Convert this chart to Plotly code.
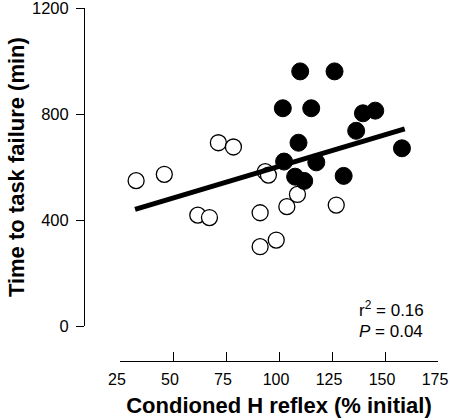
import plotly.graph_objects as go

# Open circles (condition 1)
open_x = [32.6, 45.9, 61.7, 67.2, 71.4, 78.5, 91.1, 91.1, 93.5, 95.0, 98.7, 103.7, 108.7, 127.0]
open_y = [549, 573, 419, 410, 692, 676, 428, 300, 583, 570, 325, 451, 497, 457]

# Filled circles (condition 2)
filled_x = [110.0, 126.2, 101.8, 115.2, 139.6, 145.4, 136.4, 109.2, 158.0, 102.4, 117.6, 107.6, 111.9, 130.5]
filled_y = [961, 961, 822, 822, 803, 813, 737, 692, 671, 621, 618, 564, 548, 567]

# Regression line end points
fit_x = [32.1, 159.3]
fit_y = [441, 744]

x_ticks = [25, 50, 75, 100, 125, 150, 175]
y_ticks = [0, 400, 800, 1200]

FONT = "Liberation Sans, Arial, sans-serif"

fig = go.Figure()
fig.add_trace(go.Scatter(x=open_x, y=open_y, mode="markers",
                         marker=dict(size=16, color="white", line=dict(color="black", width=1.3)),
                         showlegend=False, hoverinfo="skip"))
fig.add_trace(go.Scatter(x=fit_x, y=fit_y, mode="lines",
                         line=dict(color="black", width=5), showlegend=False, hoverinfo="skip"))
fig.add_trace(go.Scatter(x=filled_x, y=filled_y, mode="markers",
                         marker=dict(size=17, color="black", line=dict(color="black", width=1)),
                         showlegend=False, hoverinfo="skip"))

L, R, T, B = 84, 12, 8, 59.3
W, H = 450, 420
pw = W - L - R
ph = H - T - B

fig.update_layout(
    width=W, height=H,
    margin=dict(l=L, r=R, t=T, b=B, autoexpand=False),
    paper_bgcolor="white", plot_bgcolor="white",
    font=dict(family=FONT, color="black"),
    xaxis=dict(
        domain=[(120 - L) / pw, 1], range=[25, 175], anchor="free", position=0,
        tickvals=x_ticks, ticktext=[str(v) for v in x_ticks],
        ticks="inside", ticklen=9, tickwidth=1, tickcolor="black",
        showline=True, linecolor="black", linewidth=1,
        showgrid=False, zeroline=False,
        tickfont=dict(size=16, family=FONT),
        ticklabelstandoff=4, ticklabeloverflow="allow", ticklabelshift=-3,
        title=dict(text="<b>Condioned H reflex (% initial)</b>", font=dict(size=22, family=FONT), standoff=10),
        automargin=False,
    ),
    yaxis=dict(
        domain=[(H - B - 326) / ph, 1], range=[0, 1200], anchor="free", position=0,
        tickvals=y_ticks, ticktext=[str(v) for v in y_ticks],
        ticks="outside", ticklen=8, tickwidth=1, tickcolor="black",
        showline=True, linecolor="black", linewidth=1,
        showgrid=False, zeroline=False,
        tickfont=dict(size=16.5, family=FONT),
        ticklabelstandoff=4, ticklabeloverflow="allow",
        title=dict(text="<b>Time to task failure (min)</b>", font=dict(size=22, family=FONT), standoff=0),
        automargin=False,
    ),
)

fig.add_annotation(x=357, y=308.5, xref="paper", yref="paper", text="r<sup>2</sup> = 0.16",
                   showarrow=False, xanchor="left", yanchor="middle",
                   font=dict(size=17, family=FONT))
fig.add_annotation(x=357, y=331, xref="paper", yref="paper", text="<i>P</i> = 0.04",
                   showarrow=False, xanchor="left", yanchor="middle",
                   font=dict(size=17, family=FONT))

# convert pixel annotation positions to paper coords
for ann in fig.layout.annotations:
    ann.x = (ann.x - L) / pw
    ann.y = (H - B - ann.y) / ph

fig.write_html("out.html", config={"displayModeBar": False, "staticPlot": True},
               post_script="document.body.style.margin='0';")
